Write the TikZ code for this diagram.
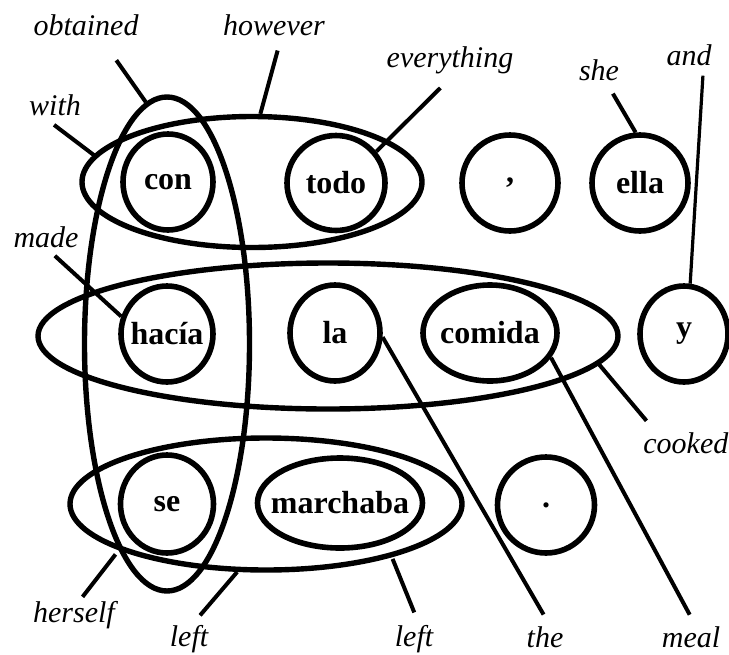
\documentclass[tikz,border=0pt]{standalone}
\usepackage{fontspec}
\setmainfont{Liberation Serif}
\usetikzlibrary{shapes.geometric}

\newcommand{\spword}[1]{\makebox[0pt]{#1}}

\tikzset{
 word/.style={ellipse, draw, line width=2.8pt, inner sep=0pt, font=\bfseries\fontsize{16}{18}\selectfont},
 group/.style={ellipse, draw, line width=2.7pt, inner sep=0pt},
 gloss/.style={inner sep=0pt, anchor=base, font=\itshape\fontsize{15}{18}\selectfont},
 link/.style={line width=2pt}
}

\begin{document}
\begin{tikzpicture}[x=0.5pt, y=-0.5pt]
 \useasboundingbox (0,0) rectangle (729,654);

 %Spanish words
 \node[word, minimum width=45pt, minimum height=48pt] (con) at (168,182) {\spword{con}};
 \node[word, minimum width=49pt, minimum height=47.5pt] (todo) at (336,183) {\spword{todo}};
 \node[word, minimum width=48pt, minimum height=48pt] (comma) at (510,183) {\spword{,}};
 \node[word, minimum width=48pt, minimum height=48pt] (ella) at (640,183) {\spword{ella}};
 \node[word, minimum width=46pt, minimum height=48pt] (hacia) at (167,334) {\spword{hacía}};
 \node[word, minimum width=45pt, minimum height=48pt] (la) at (335,333) {\spword{la}};
 \node[word, minimum width=67pt, minimum height=48pt] (comida) at (490,333) {\spword{comida}};
 \node[word, minimum width=44pt, minimum height=48pt] (yy) at (684,334) {\spword{y}};
 \node[word, minimum width=46.5pt, minimum height=49pt] (se) at (167,504) {\spword{se}};
 \node[word, minimum width=82.5pt, minimum height=45pt] (marchaba) at (340,503) {\spword{marchaba}};
 \node[word, minimum width=48.5pt, minimum height=48pt] (period) at (546,505) {\spword{.}};

 %Phrase groups
 \node[group, minimum width=170pt, minimum height=65.5pt] (grpTop) at (252,182) {};
 \node[group, minimum width=290pt, minimum height=73pt] (grpMid) at (328,336) {};
 \node[group, minimum width=196pt, minimum height=66pt] (grpBot) at (266,504) {};
 \node[group, minimum width=82.5pt, minimum height=247pt] (grpV) at (167,344) {};

 %English glosses
 \node[gloss] (lblObtained) at (86,35) {obtained};
 \node[gloss] (lblHowever) at (274,35) {however};
 \node[gloss] (lblWith) at (55,115) {with};
 \node[gloss] (lblMade) at (46,247) {made};
 \node[gloss] (lblEverything) at (450,67) {everything};
 \node[gloss] (lblShe) at (599,80) {she};
 \node[gloss] (lblAnd) at (689,65) {and};
 \node[gloss, anchor=base west] (lblCooked) at (643,453) {cooked};
 \node[gloss] (lblHerself) at (74,622) {herself};
 \node[gloss] (lblLeftA) at (189,646) {left};
 \node[gloss] (lblLeftB) at (414,646) {left};
 \node[gloss] (lblThe) at (545,647) {the};
 \node[gloss] (lblMeal) at (691,647) {meal};

 %Alignment lines
 \draw[link, shorten <=15pt] (lblObtained.-40) -- (grpV.95);
 \draw[link, shorten <=7.7pt] (lblHowever.-55) -- (grpTop.83);
 \draw[link, shorten <=7.6pt, shorten >=15pt] (lblWith.-140) -- (con.172);
 \draw[link, shorten <=6pt] (lblMade.south) -- (hacia.159);
 \draw[link, shorten <=10pt] (lblEverything.-72) -- (todo.38);
 \draw[link, shorten <=7.5pt] (lblShe.-60) -- (ella.95);
 \draw[link, line width=1.6pt, shorten <=5pt] (lblAnd.-37) -- (yy.83);
 \draw[link, shorten <=7.2pt] (lblCooked.160) -- (grpMid.-6);
 \draw[link, shorten <=2.3pt, shorten >=11pt] (lblHerself.68) -- (se.221);
 \draw[link, shorten <=6pt] (lblLeftA.77) -- (grpBot.247);
 \draw[link, shorten <=6.5pt, shorten >=8.5pt] (lblLeftB.70) -- (marchaba.-41);
 \draw[link, shorten <=6.5pt] (lblThe.65) -- (la.-5);
 \draw[link, shorten <=6.3pt] (lblMeal.67) -- (comida.-22);

\end{tikzpicture}
\end{document}
